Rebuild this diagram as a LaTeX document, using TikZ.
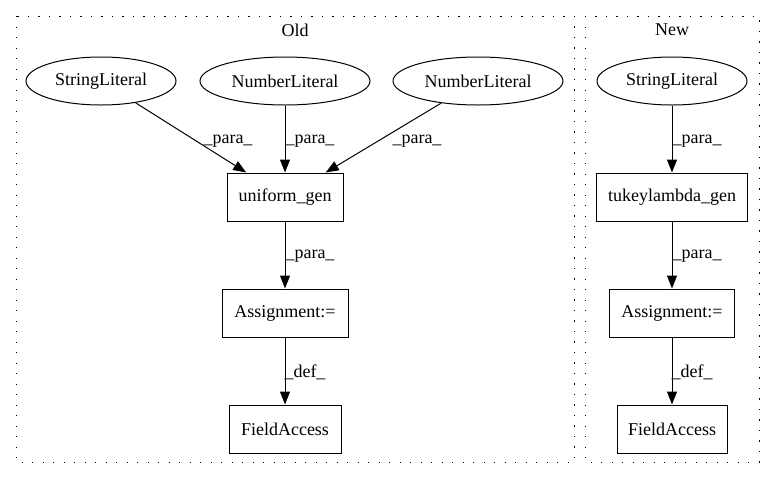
\documentclass[tikz,border=0pt]{standalone}
\usepackage{fontspec}
\setmainfont{Liberation Serif}
\usetikzlibrary{shapes.geometric,arrows.meta}

\tikzset{
  lit/.style={shape=ellipse, draw, line width=1pt, inner sep=0pt, minimum height=48pt},
  op/.style={shape=rectangle, draw, line width=1pt, inner sep=0pt, minimum height=48pt},
  edge/.style={line width=1pt, -{Triangle[length=13pt,width=10pt]}},
  cluster/.style={line width=1pt, dash pattern=on 1.2pt off 9.3pt},
}

\begin{document}
\begin{tikzpicture}[x=1pt, y=-1pt, font=\fontsize{18}{20}\selectfont]
  \useasboundingbox (0,0) rectangle (775,480);

  \draw[cluster] (16,16) rectangle (574,462);
  \draw[cluster] (585,16) rectangle (759,462);
  \node (oldlab) at (295,30) {Old};
  \node (newlab) at (672,30) {New};

  % old
  \node[lit, minimum width=150pt] (sl) at (101,81) {StringLiteral};
  \node[lit, minimum width=170pt] (nla) at (285,81) {NumberLiteral};
  \node[lit, minimum width=170pt] (nlb) at (478,81) {NumberLiteral};
  \node[op, minimum width=116pt] (ug) at (285,197) {uniform\_gen};
  \node[op, minimum width=126pt] (asa) at (285,313) {Assignment:=};
  \node[op, minimum width=112pt] (fa) at (285,429) {FieldAccess};

  \foreach \src/\lx in {sl/228, nla/310, nlb/417} {
    \draw[edge] (\src) -- (ug);
    \node (p\src) at (\lx,141) {\_para\_};
  }
  \draw[edge] (ug) -- (asa);
  \node (pug) at (310,256) {\_para\_};
  \draw[edge] (asa) -- (fa);
  \node (dasa) at (305,372) {\_def\_};

  % new
  \node[lit, minimum width=150pt] (slb) at (672,81) {StringLiteral};
  \node[op, minimum width=151pt] (tg) at (672,197) {tukeylambda\_gen};
  \node[op, minimum width=125pt] (asb) at (672,313) {Assignment:=};
  \node[op, minimum width=110pt] (fb) at (672,429) {FieldAccess};

  \draw[edge] (slb) -- (tg);
  \node (pslb) at (697,141) {\_para\_};
  \draw[edge] (tg) -- (asb);
  \node (ptg) at (697,256) {\_para\_};
  \draw[edge] (asb) -- (fb);
  \node (dasb) at (692,372) {\_def\_};

\end{tikzpicture}
\end{document}
